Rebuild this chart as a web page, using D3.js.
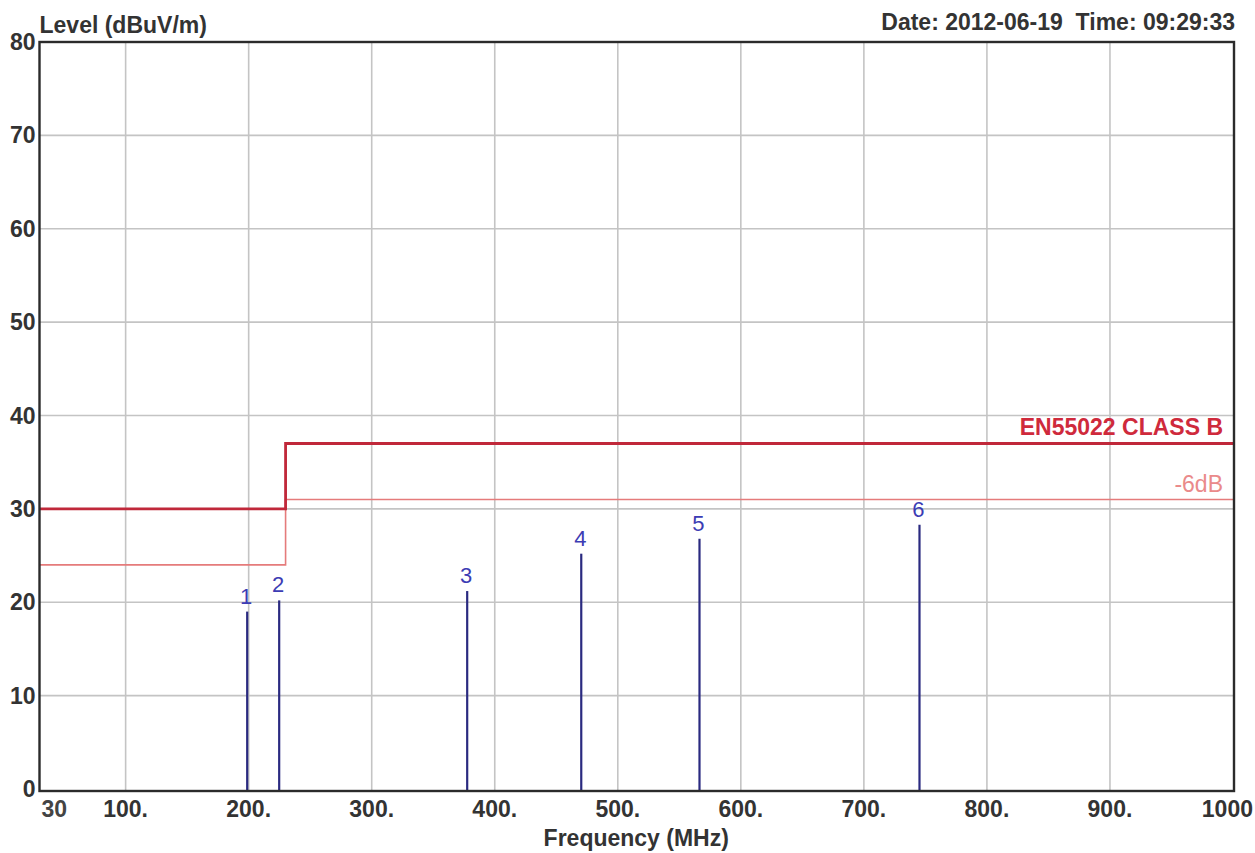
<!DOCTYPE html>
<html>
<head>
<meta charset="utf-8">
<script src="https://cdn.jsdelivr.net/npm/d3@7"></script>
<style>
  html, body { margin: 0; padding: 0; background: #ffffff; }
  svg { display: block; }
  text { font-family: "Liberation Sans", Arial, sans-serif; white-space: pre; }
</style>
</head>
<body>
<svg id="chart" width="1255" height="853"></svg>
<script>
// ---- data ----
const freqTicks = [100, 200, 300, 400, 500, 600, 700, 800, 900];
const freqTickLabels = ["100.", "200.", "300.", "400.", "500.", "600.", "700.", "800.", "900."];
const freqEndLabels = ["30", "1000"];
const levelTicks = [0, 10, 20, 30, 40, 50, 60, 70, 80];
const levelTickLabels = ["0", "10", "20", "30", "40", "50", "60", "70", "80"];

const limitFreq = [30, 230, 230, 1000];
const limitLevel = [30, 30, 37, 37];          // EN55022 CLASS B
const marginLevel = [24, 24, 31, 31];         // -6dB

const markerFreq = [198.8, 224.8, 377.6, 470.3, 566.4, 745.2];
const markerLevel = [19.0, 20.2, 21.2, 25.2, 26.8, 28.3];
const markerLabels = ["1", "2", "3", "4", "5", "6"];

const yTitle = "Level (dBuV/m)";
const xTitle = "Frequency (MHz)";
const stamp = "Date: 2012-06-19  Time: 09:29:33";
const limitName = "EN55022 CLASS B";
const marginName = "-6dB";

// ---- layout ----
const svg = d3.select("#chart");
const x = d3.scaleLinear().domain([30, 1000]).range([39.5, 1233]);
const y = d3.scaleLinear().domain([0, 80]).range([789, 42]);
const [x0, x1] = x.range();
const [yb, yt] = y.range();
const FS = 23;

// gridlines
const grid = svg.append("g");
grid.selectAll("line.v").data(freqTicks).join("line")
  .attr("x1", d => x(d)).attr("x2", d => x(d))
  .attr("y1", yt).attr("y2", yb + 2)
  .attr("stroke", "#c4c4c4").attr("stroke-width", 1.6);
grid.selectAll("line.h").data(levelTicks.filter(d => d > 0 && d < 80)).join("line")
  .attr("x1", x0).attr("x2", x1)
  .attr("y1", d => y(d)).attr("y2", d => y(d))
  .attr("stroke", "#c4c4c4").attr("stroke-width", 1.6);

// limit lines
const stepLine = d3.line().x(d => x(d[0])).y(d => y(d[1]));
svg.append("path")
  .attr("d", stepLine(limitFreq.map((f, i) => [f, marginLevel[i]])))
  .attr("fill", "none").attr("stroke", "#e57b7b").attr("stroke-width", 1.6);
svg.append("path")
  .attr("d", stepLine(limitFreq.map((f, i) => [f, limitLevel[i]])))
  .attr("fill", "none").attr("stroke", "#c0283a").attr("stroke-width", 2.8);

// markers
const mk = svg.append("g");
mk.selectAll("line").data(markerFreq).join("line")
  .attr("x1", d => x(d)).attr("x2", d => x(d))
  .attr("y1", yb + 2).attr("y2", (d, i) => y(markerLevel[i]))
  .attr("stroke", "#2a2a80").attr("stroke-width", 2.2);
mk.selectAll("text").data(markerFreq).join("text")
  .attr("x", d => x(d) - 1)
  .attr("y", (d, i) => y(markerLevel[i]) - 8)
  .attr("text-anchor", "middle")
  .attr("font-size", 22)
  .attr("fill", "#3c3cb4")
  .text((d, i) => markerLabels[i]);

// frame
svg.append("rect")
  .attr("x", x0).attr("y", yt)
  .attr("width", x1 - x0 + 1).attr("height", yb - yt + 2)
  .attr("fill", "none").attr("stroke", "#2b2b2b").attr("stroke-width", 2.4);

// limit labels
svg.append("text")
  .attr("x", x(1000) - 10).attr("y", y(limitLevel[3]) - 9)
  .attr("text-anchor", "end").attr("font-size", FS).attr("font-weight", "bold")
  .attr("fill", "#cf2a3c").text(limitName);
svg.append("text")
  .attr("x", x(1000) - 10).attr("y", y(marginLevel[3]) - 8)
  .attr("text-anchor", "end").attr("font-size", FS)
  .attr("fill", "#ea8a8a").text(marginName);

// y tick labels
svg.append("g").selectAll("text").data(levelTicks).join("text")
  .attr("x", x0 - 4).attr("y", d => y(d) + 8)
  .attr("text-anchor", "end").attr("font-size", FS).attr("font-weight", "bold")
  .attr("fill", "#333").text((d, i) => levelTickLabels[i]);

// x tick labels
svg.append("g").selectAll("text").data(freqTicks).join("text")
  .attr("x", d => x(d)).attr("y", yb + 28)
  .attr("text-anchor", "middle").attr("font-size", FS).attr("font-weight", "bold")
  .attr("fill", "#333").text((d, i) => freqTickLabels[i]);
svg.append("text")
  .attr("x", x(30) + 2).attr("y", yb + 28)
  .attr("text-anchor", "start").attr("font-size", FS).attr("font-weight", "bold")
  .attr("fill", "#444").text(freqEndLabels[0]);
svg.append("text")
  .attr("x", x(1000) + 20).attr("y", yb + 28)
  .attr("text-anchor", "end").attr("font-size", FS).attr("font-weight", "bold")
  .attr("fill", "#333").text(freqEndLabels[1]);

// titles
svg.append("text")
  .attr("x", x0).attr("y", 33)
  .attr("font-size", FS).attr("font-weight", "bold").attr("fill", "#333")
  .text(yTitle);
svg.append("text")
  .attr("x", x1 + 2).attr("y", 30)
  .attr("text-anchor", "end")
  .attr("font-size", FS).attr("font-weight", "bold").attr("fill", "#333")
  .text(stamp);
svg.append("text")
  .attr("x", (x0 + x1) / 2).attr("y", 846)
  .attr("text-anchor", "middle")
  .attr("font-size", FS).attr("font-weight", "bold").attr("fill", "#333")
  .text(xTitle);
</script>
</body>
</html>
